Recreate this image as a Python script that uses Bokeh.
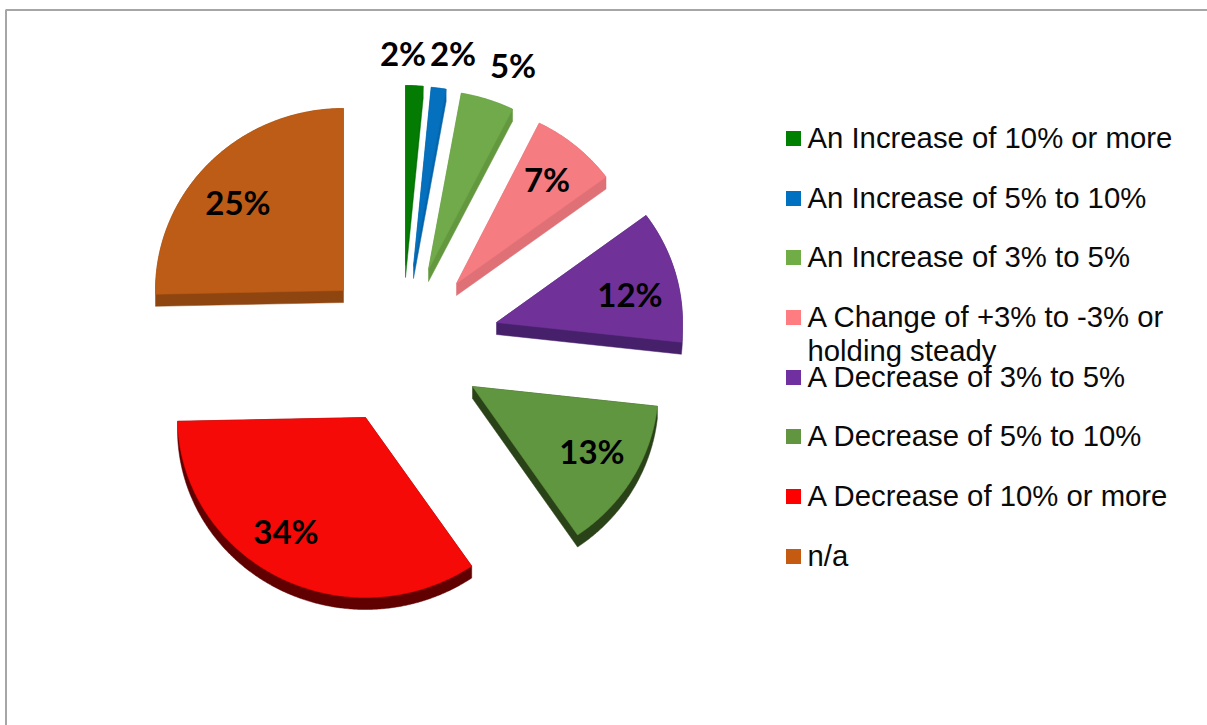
import numpy as np
from bokeh.models import Range1d
from bokeh.plotting import figure
from bokeh.core.properties import value
from bokeh.embed import file_html
from bokeh.resources import INLINE

# Survey shares
categories = [
    "An Increase of 10% or more", "An Increase of 5% to 10%", "An Increase of 3% to 5%",
    "A Change of +3% to -3% or\nholding steady", "A Decrease of 3% to 5%",
    "A Decrease of 5% to 10%", "A Decrease of 10% or more", "n/a",
]
shares = [2, 2, 5, 7, 12, 13, 34, 25]

# Colours: top face, side wall, legend swatch
top_colors = ["#047C04", "#0570BD", "#70AA4A", "#F57C80", "#703299", "#619640", "#F50A08", "#BC5C16"]
side_colors = ["#047004", "#0565AA", "#63983F", "#DE7076", "#47206B", "#2A4218", "#600000", "#8F4510"]
swatch_colors = ["#008000", "#0070C0", "#70AD47", "#FF7C80", "#7030A0", "#619540", "#FF0000", "#C55A11"]

# Pie layout, in page pixels
CX, CY = 385, 345
DEPTH = 12
explode_dx = [20, 28, 43, 71, 111, 87, -20, -42]
explode_dy = [80, 79, 76, 62, 23, -41, -72, 55]
radius_x = [188, 188, 189, 186, 186, 186, 188, 188]
radius_y = [180, 180, 179, 179, 180, 180, 180, 182]
# Angular shift of the tilted 3-D view, degrees against position on the circle
view_at = [0, 7.2, 14.4, 32.4, 57.6, 100.8, 147.6, 270, 360]
view_shift = [0, -1.8, -4.4, -6, -4.1, -4.5, -2, -1.2, 0]

label_x = [402.5, 452.5, 512.5, 546.5, 629.5, 591.5, 285.5, 237.5]
label_y = [52.5, 52.5, 64.5, 178.5, 293.5, 450.5, 530.5, 201.5]

legend_row_y = [138, 198, 257, 317, 377, 436, 496, 556]
LEGEND_SWATCH_X, LEGEND_TEXT_X = 793, 807
LEGEND_TEXT_LIFT = 1
LEGEND_LINE = 34


def wedge(i, start, stop):
    """Outline of one slice on the tilted disc, as page coordinates."""
    steps = max(int(stop - start) * 2, 6)
    th = np.linspace(start, stop, steps)
    th = np.radians(th + np.interp(th, view_at, view_shift))
    ax, ay = CX + explode_dx[i], CY - explode_dy[i]
    xs = np.concatenate([[ax], ax + radius_x[i] * np.sin(th)])
    ys = np.concatenate([[ay], ay - radius_y[i] * np.cos(th)])
    return xs, ys


def hull(xs, ys):
    """Convex hull, used for the swept side wall of a slice."""
    pts = sorted(set(zip(xs.tolist(), ys.tolist())))

    def half(seq):
        out = []
        for pt in seq:
            while len(out) > 1 and (
                (out[-1][0] - out[-2][0]) * (pt[1] - out[-2][1])
                - (out[-1][1] - out[-2][1]) * (pt[0] - out[-2][0])
            ) <= 0:
                out.pop()
            out.append(pt)
        return out[:-1]

    ring = half(pts) + half(pts[::-1])
    return [p[0] for p in ring], [p[1] for p in ring]


p = figure(width=1207, height=725, output_backend="svg", toolbar_location=None,
           x_range=Range1d(0, 1207), y_range=Range1d(725, 0),
           min_border=0, outline_line_color=None, background_fill_color="white")
p.axis.visible = False
p.grid.visible = False

# Chart-area frame, running off the page on two sides
p.line([5.5, 5.5, 1207], [725, 9.5, 9.5], line_color="#A6A6A6", line_width=2)

edges = np.concatenate([[0], np.cumsum(shares)]) / sum(shares) * 360
top_x, top_y, side_x, side_y = [], [], [], []
for i in range(len(shares)):
    xs, ys = wedge(i, edges[i], edges[i + 1])
    top_x.append(xs.tolist())
    top_y.append(ys.tolist())
    hx, hy = hull(np.concatenate([xs, xs]), np.concatenate([ys, ys + DEPTH]))
    side_x.append(hx)
    side_y.append(hy)

p.patches(side_x, side_y, fill_color=side_colors, line_color=side_colors, line_width=0.5)
p.patches(top_x, top_y, fill_color=top_colors, line_color=top_colors, line_width=0.5)

p.text(label_x, label_y, text=[f"{v}%" for v in shares],
       text_font=value("Lato"), text_font_style="bold", text_font_size="33px",
       text_color="#000000", text_align="center", text_baseline="middle")

# Legend
p.scatter([LEGEND_SWATCH_X] * len(categories), legend_row_y, marker="square", size=15,
          fill_color=swatch_colors, line_color=None)
line_text, line_y = [], []
for name, y in zip(categories, legend_row_y):
    for k, part in enumerate(name.split("\n")):
        line_text.append(part)
        line_y.append(y + k * LEGEND_LINE - LEGEND_TEXT_LIFT)
p.text([LEGEND_TEXT_X] * len(line_text), line_y, text=line_text,
       text_font=value("Liberation Sans"), text_font_size="29.3px",
       text_color="#0A0A0A", text_align="left", text_baseline="middle")

open("out.html", "w").write(file_html(p, INLINE))
